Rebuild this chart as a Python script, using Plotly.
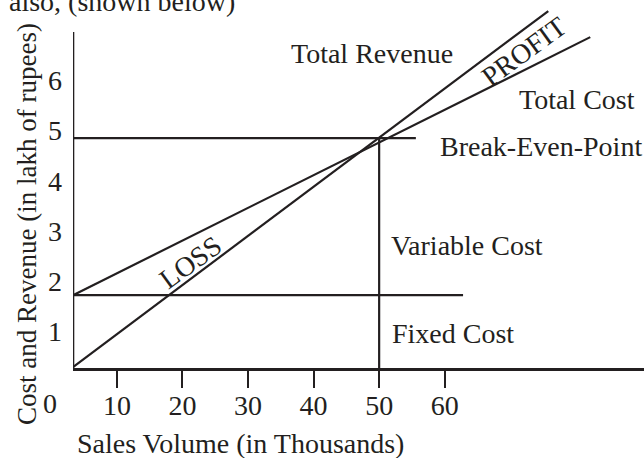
import plotly.graph_objects as go

INK = "#231f20"
FONT = "Liberation Serif, Times New Roman, serif"
FS = 28

# Sales volume (thousands) ticks and cost/revenue ticks (lakh of rupees)
x_ticks = [10, 20, 30, 40, 50, 60]
y_ticks = [1, 2, 3, 4, 5, 6]

# Line endpoints
axis_x = 3.3
tr_x = [3.3, 75.8]       # Total Revenue
tr_y = [0.29, 7.38]
tc_x = [3.3, 82.2]       # Total Cost
tc_y = [1.72, 6.86]
fc_x = [3.3, 62.8]       # Fixed Cost
fc_y = [1.72, 1.72]
bep_x = [3.3, 55.6]      # Break-even level
bep_y = [4.85, 4.85]
bev_x = [50, 50]         # Break-even volume
bev_y = [0.27, 4.85]
yaxis_x = [3.3, 3.3]
yaxis_y = [0.27, 6.96]

W, H = 644, 458
ML, MR, MT, MB = 73, 0, 5, 90
PW, PH = W - ML - MR, H - MT - MB


def px(x):
    return (x - ML) / PW


def py(y):
    return (H - MB - y) / PH


fig = go.Figure()
line = dict(color=INK, width=2.2)
for xs, ys in [(tr_x, tr_y), (tc_x, tc_y), (fc_x, fc_y), (bep_x, bep_y),
               (bev_x, bev_y)]:
    fig.add_trace(go.Scatter(x=xs, y=ys, mode="lines", line=line,
                             hoverinfo="skip", showlegend=False))
fig.add_trace(go.Scatter(x=yaxis_x, y=yaxis_y, mode="lines",
                         line=dict(color=INK, width=2.6),
                         hoverinfo="skip", showlegend=False))

labels = [
    ("Total Revenue", 372, 53, 0),
    ("Total Cost", 577, 100, 0),
    ("Break-Even-Point", 541, 146, 0),
    ("Variable Cost", 467, 246, 0),
    ("Fixed Cost", 453, 333, 0),
    ("LOSS", 190, 262, -36),
    ("PROFIT", 524, 52, -36),
    ("0", 50, 403, 0),
    ("Sales Volume (in Thousands)", 240, 444, 0),
]
for txt, x0, y0, ang in labels:
    fig.add_annotation(text=txt, x=px(x0), y=py(y0), xref="paper",
                       yref="paper", showarrow=False, textangle=ang,
                       font=dict(family=FONT, size=FS, color=INK),
                       xanchor="center", yanchor="middle")

fig.add_annotation(text="also, (shown below)", x=px(7), y=py(19),
                   xref="paper", yref="paper", showarrow=False,
                   xanchor="left", yanchor="bottom",
                   font=dict(family=FONT, size=FS, color=INK))

fig.add_annotation(text="Cost and Revenue (in lakh of rupees)", x=px(27),
                   y=py(224), xref="paper", yref="paper", showarrow=False,
                   textangle=-90, xanchor="center", yanchor="middle",
                   font=dict(family=FONT, size=27, color=INK))

fig.update_layout(
    width=W, height=H,
    margin=dict(l=ML, r=MR, t=MT, b=MB),
    paper_bgcolor="white", plot_bgcolor="white",
    font=dict(family=FONT, size=FS, color=INK),
    xaxis=dict(range=[axis_x, 90.4], tickvals=x_ticks, ticks="outside",
               ticklen=17, tickwidth=2.4, tickcolor=INK, showline=True,
               linewidth=2.6, linecolor=INK, showgrid=False, zeroline=False,
               ticklabelstandoff=-6,
               tickfont=dict(family=FONT, size=FS, color=INK)),
    yaxis=dict(range=[0.27, 7.5], tickvals=y_ticks, ticks="",
               showline=False, showgrid=False, zeroline=False,
               ticklabelstandoff=10,
               tickfont=dict(family=FONT, size=FS, color=INK)),
)
fig.write_html(
    "out.html",
    config={"displayModeBar": False},
    post_script="document.body.style.margin='0';"
                "document.body.style.overflow='hidden';",
)
